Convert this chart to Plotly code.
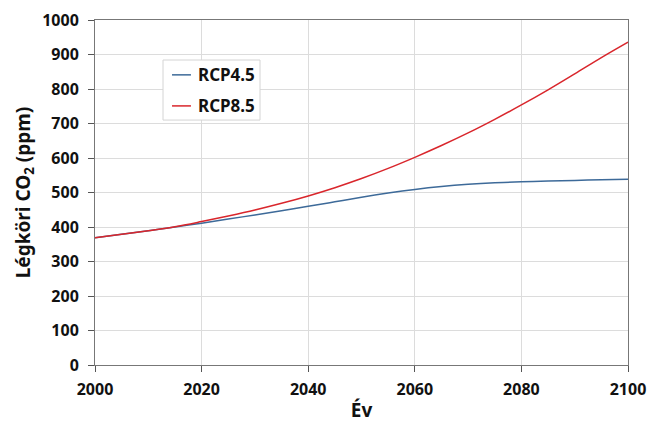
import plotly.graph_objects as go

# Projected atmospheric CO2 concentration (ppm) under two RCP scenarios
years = [2000, 2005, 2010, 2015, 2020, 2025, 2030, 2035, 2040, 2045, 2050,
         2055, 2060, 2065, 2070, 2075, 2080, 2085, 2090, 2095, 2100]
rcp45 = [369.0, 378.8, 389.3, 399.9, 411.1, 423.0, 435.0, 447.0, 460.0, 473.0, 486.5,
         498.5, 508.9, 517.3, 523.6, 528.1, 531.1, 533.2, 535.0, 537.0, 538.4]
rcp85 = [369.0, 378.8, 389.3, 400.8, 415.8, 432.0, 449.3, 468.7, 490.1, 514.0, 540.5,
         569.9, 601.9, 636.1, 672.6, 712.0, 753.8, 797.6, 843.9, 891.1, 935.9]

x_ticks = [2000, 2020, 2040, 2060, 2080, 2100]
y_ticks = [0, 100, 200, 300, 400, 500, 600, 700, 800, 900, 1000]

series_names = ["RCP4.5", "RCP8.5"]
series_colors = ["#3d6a99", "#d9262c"]

font_family = "Noto Sans"

fig = go.Figure()
for name, vals, color in zip(series_names, [rcp45, rcp85], series_colors):
    fig.add_trace(go.Scatter(x=years, y=vals, mode="lines", name=name,
                             line=dict(color=color, width=1.5, shape="spline"),
                             showlegend=False))

# Compact boxed legend with short line samples
legend_box = dict(x0=0.1276, x1=0.3096, y0=0.710, y1=0.884)
fig.add_shape(type="rect", xref="paper", yref="paper", **legend_box,
              line=dict(color="#d4d4d4", width=1), fillcolor="white", layer="above")
for name, color, ly in zip(series_names, series_colors, [0.841, 0.751]):
    fig.add_shape(type="line", xref="paper", yref="paper",
                  x0=0.1445, x1=0.180, y0=ly, y1=ly,
                  line=dict(color=color, width=1.5), layer="above")
    fig.add_annotation(xref="paper", yref="paper", x=0.189, y=ly, text=name,
                       showarrow=False, xanchor="left", yanchor="middle",
                       font=dict(size=17, family=font_family, weight="bold", color="#111111"))

fig.update_layout(
    width=650, height=423,
    margin=dict(l=95, r=22, t=20, b=58),
    paper_bgcolor="white", plot_bgcolor="white",
    font=dict(family=font_family, color="#111111"),
    showlegend=False,
)
fig.update_xaxes(
    range=[2000, 2100], tickvals=x_ticks, ticks="outside", ticklen=6,
    tickcolor="#555555", showline=True, linecolor="#777777", linewidth=1,
    mirror=True, showgrid=True, gridcolor="#dcdcdc", zeroline=False,
    automargin=False, ticklabelstandoff=4,
    tickfont=dict(size=16, family=font_family, weight="bold"),
    title=dict(text="Év", font=dict(size=19, family=font_family, weight="bold"), standoff=4),
)
fig.update_yaxes(
    range=[0, 1000], tickvals=y_ticks, ticks="outside", ticklen=6,
    tickcolor="#555555", showline=True, linecolor="#777777", linewidth=1,
    mirror=True, showgrid=True, gridcolor="#dcdcdc", zeroline=False,
    automargin=False, ticklabelstandoff=6,
    tickfont=dict(size=16, family=font_family, weight="bold"),
    title=dict(text="Légköri CO<sub>2</sub> (ppm)",
               font=dict(size=19, family=font_family, weight="bold"), standoff=6),
)

fig.write_html("out.html")
